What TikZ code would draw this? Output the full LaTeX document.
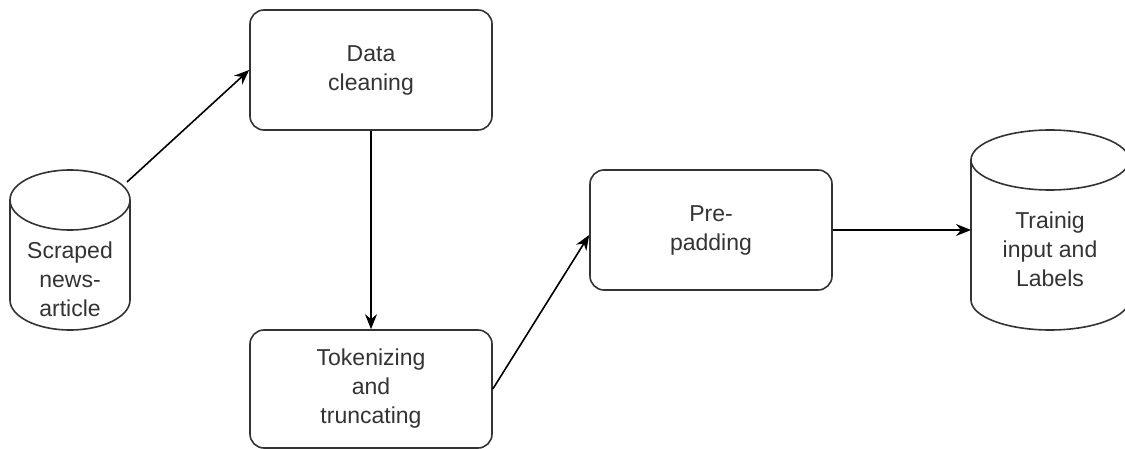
\documentclass[tikz,border=0pt]{standalone}
\usepackage{fontspec}
\setmainfont{Liberation Sans}
\usetikzlibrary{arrows.meta,positioning}

\tikzset{
  stepbox/.style={draw=black!80, line width=1.6pt, rounded corners=14pt,
    minimum width=242pt, minimum height=120pt, align=center,
    text=black!80, font=\fontsize{23}{29}\selectfont},
  dblabel/.style={align=center, text=black!80, font=\fontsize{23}{29}\selectfont},
  dbline/.style={draw=black!80, line width=1.6pt},
  flow/.style={-{Stealth[length=15pt,width=12pt]}, line width=1.6pt}
}

\begin{document}
\begin{tikzpicture}[x=1pt, y=1pt]
    \useasboundingbox (0,0) rectangle (1125,-449);

    % Source store
    \draw[dbline] (10,-200) -- (10,-300) arc[start angle=180, end angle=360, x radius=60, y radius=30] -- (130,-200);
    \draw[dbline] (70,-200) ellipse[x radius=60, y radius=30];
    \node[dblabel] (src) at (70,-279) {Scraped\\news-\\article};
    \coordinate (srcrim) at (127,-182);

    % Processing steps
    \node[stepbox] (clean) at (371,-70) {Data\\cleaning};
    \node[stepbox, minimum height=118pt] (token) at (371,-389) {Tokenizing\\and\\truncating};
    \node[stepbox] (pad) at (711,-230) {Pre-\\padding};

    % Target store
    \draw[dbline] (971,-160) -- (971,-300) arc[start angle=180, end angle=360, x radius=79, y radius=30] -- (1129,-160);
    \draw[dbline] (1050,-160) ellipse[x radius=79, y radius=30];
    \node[dblabel] (train) at (1050,-249) {Trainig\\input and\\Labels};
    \coordinate (trainrim) at (971,-230);

    % Flow
    \draw[flow] (srcrim) -- (clean.west);
    \draw[flow] (clean.south) -- (token.north);
    \draw[flow] (token.east) -- ([yshift=-5pt]pad.west);
    \draw[flow] (pad.east) -- (trainrim);
\end{tikzpicture}
\end{document}
